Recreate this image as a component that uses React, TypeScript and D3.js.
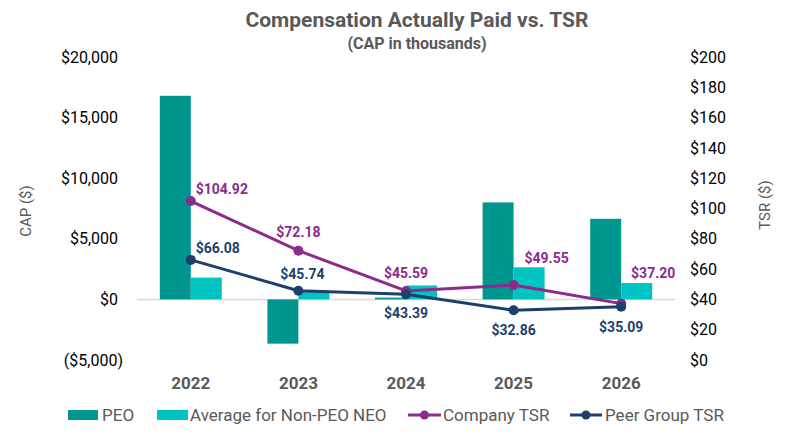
import React from "react";
import * as d3 from "d3";

const years = ["2022", "2023", "2024", "2025", "2026"];
const peoCap = [16800, -3650, 150, 8000, 6650];
const neoCap = [1800, 600, 1150, 2650, 1350];
const companyTsr = [104.92, 72.18, 45.59, 49.55, 37.2];
const peerTsr = [66.08, 45.74, 43.39, 32.86, 35.09];
const leftTicks = [-5000, 0, 5000, 10000, 15000, 20000];
const rightTicks = [0, 20, 40, 60, 80, 100, 120, 140, 160, 180, 200];

// label placement offsets (dx, dy relative to point)
const companyLabelOffset: [number, number][] = [[31, -12], [0, -19], [0, -18], [33, -27], [32, -31]];
const peerLabelOffset: [number, number][] = [[27, -12], [4, -17], [0, 19], [0, 20], [0, 20]];

const W = 800;
const H = 435;
const FONT = "Roboto, 'Noto Sans', sans-serif";
const C_PEO = "#009690";
const C_NEO = "#00C4C2";
const C_CO = "#8B2B8C";
const C_PEER = "#1C3F6D";
const GRAY = "#595959";

export default function App() {
  const x = d3.scaleBand<string>().domain(years).range([137, 675]).paddingInner(0).paddingOuter(0);
  const yL = d3.scaleLinear().domain([-5000, 20000]).range([360, 57]);
  const yR = d3.scaleLinear().domain([0, 200]).range([360, 57]);
  const barW = 31;
  const cx = (y: string) => (x(y) ?? 0) + x.bandwidth() / 2;
  const fmtL = (v: number) => {
    const s = "$" + d3.format(",")(Math.abs(v));
    return v < 0 ? "(" + s + ")" : s;
  };
  const lineGen = d3
    .line<number>()
    .x((_, i) => cx(years[i]))
    .y((d) => yR(d));

  return (
    <svg width={W} height={H} style={{ position: "absolute", left: 0, top: 0, fontFamily: FONT }}>
      <rect width={W} height={H} fill="#fff" />
      <text x={417} y={27} textAnchor="middle" fontSize={21} fontWeight={700} fill={GRAY}>
        Compensation Actually Paid vs. TSR
      </text>
      <text x={417} y={49} textAnchor="middle" fontSize={16} fontWeight={700} fill={GRAY}>
        (CAP in thousands)
      </text>

      {leftTicks.map((t) => (
        <text key={t} x={t < 0 ? 123 : 118} y={yL(t)} dy="0.35em" textAnchor="end" fontSize={16} fill="#000">
          {fmtL(t)}
        </text>
      ))}
      {rightTicks.map((t) => (
        <text key={t} x={690} y={yR(t)} dy="0.35em" textAnchor="start" fontSize={16} fill="#000">
          {"$" + t}
        </text>
      ))}
      <text transform={`translate(31,211) rotate(-90)`} textAnchor="middle" fontSize={15} fill={GRAY}>
        CAP ($)
      </text>
      <text transform={`translate(770,205) rotate(-90)`} textAnchor="middle" fontSize={15} fill={GRAY}>
        TSR ($)
      </text>

      <line x1={137} x2={675} y1={yL(0)} y2={yL(0)} stroke="#d9d9d9" strokeWidth={1.5} />

      {years.map((yr, i) => (
        <g key={yr}>
          <rect
            x={cx(yr) - barW}
            y={Math.min(yL(peoCap[i]), yL(0))}
            width={barW}
            height={Math.abs(yL(peoCap[i]) - yL(0))}
            fill={C_PEO}
          />
          <rect
            x={cx(yr)}
            y={Math.min(yL(neoCap[i]), yL(0))}
            width={barW}
            height={Math.abs(yL(neoCap[i]) - yL(0))}
            fill={C_NEO}
          />
          <text x={cx(yr)} y={383} dy="0.35em" textAnchor="middle" fontSize={17} fontWeight={700} fill={GRAY}>
            {yr}
          </text>
        </g>
      ))}

      <path d={lineGen(companyTsr) ?? ""} fill="none" stroke={C_CO} strokeWidth={3} strokeLinejoin="round" />
      <path d={lineGen(peerTsr) ?? ""} fill="none" stroke={C_PEER} strokeWidth={3} strokeLinejoin="round" />
      {companyTsr.map((v, i) => (
        <circle key={"c" + i} cx={cx(years[i])} cy={yR(v)} r={5} fill={C_CO} />
      ))}
      {peerTsr.map((v, i) => (
        <circle key={"p" + i} cx={cx(years[i])} cy={yR(v)} r={5} fill={C_PEER} />
      ))}
      {companyTsr.map((v, i) => (
        <text
          key={"cl" + i}
          x={cx(years[i]) + companyLabelOffset[i][0]}
          y={yR(v) + companyLabelOffset[i][1]}
          dy="0.35em"
          textAnchor="middle"
          fontSize={14}
          fontWeight={700}
          fill={C_CO}
        >
          {"$" + v.toFixed(2)}
        </text>
      ))}
      {peerTsr.map((v, i) => (
        <text
          key={"pl" + i}
          x={cx(years[i]) + peerLabelOffset[i][0]}
          y={yR(v) + peerLabelOffset[i][1]}
          dy="0.35em"
          textAnchor="middle"
          fontSize={14}
          fontWeight={700}
          fill={C_PEER}
        >
          {"$" + v.toFixed(2)}
        </text>
      ))}

      <g fontSize={17} fill={GRAY}>
        <rect x={68} y={410} width={30} height={10} fill={C_PEO} />
        <text x={102} y={415} dy="0.35em">PEO</text>
        <rect x={157} y={410} width={31} height={10} fill={C_NEO} />
        <text x={190} y={415} dy="0.35em">Average for Non-PEO NEO</text>
        <line x1={408} x2={441} y1={415} y2={415} stroke={C_CO} strokeWidth={3} />
        <circle cx={424.5} cy={415} r={4.5} fill={C_CO} />
        <text x={443} y={415} dy="0.35em">Company TSR</text>
        <line x1={570} x2={602} y1={415} y2={415} stroke={C_PEER} strokeWidth={3} />
        <circle cx={586} cy={415} r={4.5} fill={C_PEER} />
        <text x={605} y={415} dy="0.35em">Peer Group TSR</text>
      </g>
    </svg>
  );
}
